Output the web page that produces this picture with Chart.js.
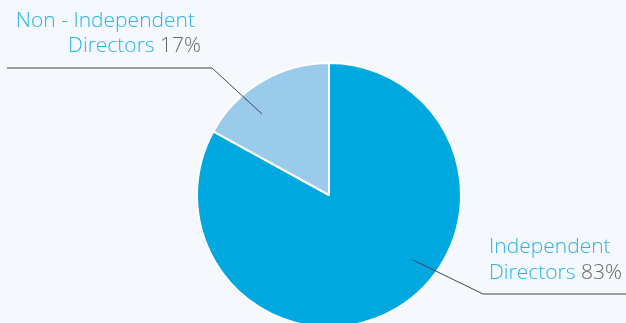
<!DOCTYPE html>
<html>
<head>
<meta charset="utf-8">
<script src="https://cdn.jsdelivr.net/npm/chart.js@4/dist/chart.umd.min.js"></script>
<style>
html,body{margin:0;padding:0;background:#f5f9fd;overflow:hidden;}
#wrap{position:relative;width:626px;height:330px;}
</style>
</head>
<body>
<div id="wrap"><canvas id="c"></canvas></div>
<script>
const categories = ["Independent Directors", "Non - Independent Directors"];
const values = [83, 17];
const colors = ["#00a8e0", "#9bcbeb"];
const labelLines = [["Independent", "Directors"], ["Non - Independent", "Directors"]];

const FONT = '300 21px "Open Sans", Roboto, sans-serif';
const NAME_COLOR = "#2ab3e6";
const PCT_COLOR = "#666666";

const labelPlugin = {
  id: "calloutLabels",
  afterDatasetsDraw(chart) {
    const ctx = chart.ctx;
    const meta = chart.getDatasetMeta(0);
    const a0 = meta.data[0];
    const cx = a0.x, cy = a0.y, r = a0.outerRadius;
    ctx.save();
    ctx.strokeStyle = "#444";
    ctx.lineWidth = 1;
    ctx.beginPath();
    ctx.moveTo(cx + r * 0.636, cy + r * 0.492);
    ctx.lineTo(cx + r * 1.167, cy + r * 0.750);
    ctx.lineTo(chart.width, cy + r * 0.750);
    ctx.stroke();
    ctx.beginPath();
    ctx.moveTo(cx - r * 0.508, cy - r * 0.614);
    ctx.lineTo(cx - r * 0.886, cy - r * 0.962);
    ctx.lineTo(7, cy - r * 0.962);
    ctx.stroke();

    ctx.font = FONT;
    ctx.textBaseline = "alphabetic";
    const pct0 = " " + values[0] + "%";
    ctx.textAlign = "left";
    ctx.fillStyle = NAME_COLOR;
    ctx.fillText(labelLines[0][0], 489, 253);
    ctx.fillText(labelLines[0][1], 489, 279);
    const w0 = ctx.measureText(labelLines[0][1]).width;
    ctx.fillStyle = PCT_COLOR;
    ctx.fillText(pct0, 489 + w0, 279);
    ctx.textAlign = "right";
    ctx.fillStyle = NAME_COLOR;
    ctx.fillText(labelLines[1][0], 195, 27);
    const pct1 = " " + values[1] + "%";
    const wp = ctx.measureText(pct1).width;
    ctx.fillStyle = PCT_COLOR;
    ctx.fillText(pct1, 201, 52);
    ctx.fillStyle = NAME_COLOR;
    ctx.fillText(labelLines[1][1], 201 - wp, 52);
    ctx.restore();
  }
};

new Chart(document.getElementById("c"), {
  type: "pie",
  data: {
    labels: categories,
    datasets: [{
      data: values,
      backgroundColor: colors,
      borderColor: "#ffffff",
      borderWidth: 2
    }]
  },
  options: {
    responsive: true,
    maintainAspectRatio: false,
    animation: false,
    layout: { padding: { left: 32, right: 0, top: 62, bottom: 2 } },
    plugins: { legend: { display: false }, tooltip: { enabled: false } }
  },
  plugins: [labelPlugin]
});
</script>
</body>
</html>
